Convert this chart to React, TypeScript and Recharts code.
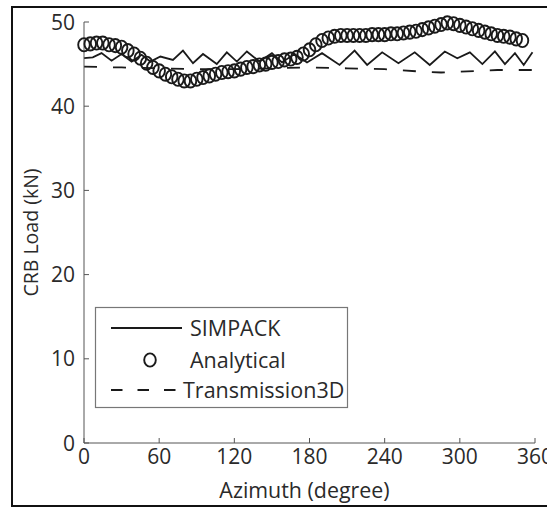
import React from 'react';
import { ComposedChart, Line, Scatter, XAxis, YAxis } from 'recharts';

// ---------- data ----------
const analyticalAngles = [
  0, 5, 10, 15, 20, 25, 30, 35, 40, 45, 50, 55, 60, 65, 70, 75, 80, 85, 90, 95,
  100, 105, 110, 115, 120, 125, 130, 135, 140, 145, 150, 155, 160, 165, 170, 175,
  180, 185, 190, 195, 200, 205, 210, 215, 220, 225, 230, 235, 240, 245, 250, 255,
  260, 265, 270, 275, 280, 285, 290, 295, 300, 305, 310, 315, 320, 325, 330, 335,
  340, 345, 350,
];
const analyticalLoads = [
  47.3, 47.4, 47.5, 47.5, 47.3, 47.2, 47.0, 46.6, 46.2, 45.7, 45.1, 44.6, 44.2, 43.8,
  43.5, 43.2, 43.0, 43.0, 43.2, 43.4, 43.6, 43.8, 44.0, 44.1, 44.2, 44.4, 44.6, 44.7,
  44.9, 45.0, 45.2, 45.3, 45.5, 45.6, 45.8, 46.2, 46.7, 47.3, 47.8, 48.1, 48.3, 48.4,
  48.4, 48.4, 48.4, 48.4, 48.5, 48.5, 48.5, 48.6, 48.6, 48.7, 48.8, 48.9, 49.1, 49.3,
  49.5, 49.7, 49.9, 49.8, 49.6, 49.4, 49.2, 49.0, 48.8, 48.6, 48.4, 48.3, 48.2, 48.0,
  47.8,
];

const simpackAngles = [
  0, 7, 14, 22, 30, 38, 46, 53, 61, 71, 79, 87, 95, 106, 114, 122, 130, 140, 150, 158,
  168, 178, 190, 204, 216, 226, 238, 251, 264, 276, 288, 298, 308, 318, 328, 336, 344,
  351, 358,
];
const simpackLoads = [
  45.7, 45.8, 46.3, 45.4, 46.2, 45.3, 46.1, 45.3, 45.9, 45.5, 46.6, 45.1, 46.2, 45.0,
  46.4, 45.3, 46.5, 45.3, 46.3, 45.2, 46.2, 45.2, 46.3, 44.9, 46.6, 44.9, 46.4, 45.1,
  46.4, 44.9, 46.5, 45.7, 46.4, 45.0, 46.5, 45.0, 46.3, 44.9, 46.4,
];

const t3dAngles = [0, 30, 60, 90, 120, 150, 180, 210, 240, 270, 285, 300, 330, 360];
const t3dLoads = [44.7, 44.6, 44.5, 44.4, 44.4, 44.5, 44.6, 44.5, 44.4, 44.1, 44.0, 44.1, 44.3, 44.3];

const xTicks = [0, 60, 120, 180, 240, 300, 360];
const yTicks = [0, 10, 20, 30, 40, 50];
const seriesNames = ['SIMPACK', 'Analytical', 'Transmission3D'];
const xLabel = 'Azimuth (degree)';
const yLabel = 'CRB Load (kN)';

const analyticalData = analyticalAngles.map((a, i) => ({ x: a, y: analyticalLoads[i] }));
const simpackData = simpackAngles.map((a, i) => ({ x: a, y: simpackLoads[i] }));
const t3dData = t3dAngles.map((a, i) => ({ x: a, y: t3dLoads[i] }));

// ---------- styles ----------
const FONT = '"Open Sans", "Noto Sans", sans-serif';
const TEXT = '#2a2a2a';
const AXIS = '#555';
const INK = '#1a1a1a';

const XTick = (props: any) => {
  const { x, y, payload } = props;
  return (
    <text x={x} y={y} dy="0.72em" textAnchor="middle" fontFamily={FONT} fontSize={21} fill={TEXT}>
      {payload.value}
    </text>
  );
};

const YTick = (props: any) => {
  const { x, y, payload } = props;
  return (
    <text x={x} y={y} dy="0.36em" textAnchor="end" fontFamily={FONT} fontSize={21} fill={TEXT}>
      {payload.value}
    </text>
  );
};

const Ring = (props: any) => {
  const { cx, cy } = props;
  if (cx == null || cy == null) return <g />;
  return <ellipse cx={cx} cy={cy} rx={5.8} ry={6.6} fill="none" stroke={INK} strokeWidth={1.9} />;
};

const YLabel = (props: any) => {
  const vb = props.viewBox || { x: 0, y: 0, width: 0, height: 0 };
  const cx = vb.x + 38;
  const cy = vb.y + vb.height / 2;
  return (
    <text
      x={0}
      y={0}
      transform={`translate(${cx},${cy}) rotate(-90)`}
      textAnchor="middle"
      fontFamily={FONT}
      fontSize={19.5}
      fill={TEXT}
    >
      {yLabel}
    </text>
  );
};

const LegendBox = () => (
  <svg
    width={547}
    height={508}
    style={{ position: 'absolute', left: 0, top: 0, pointerEvents: 'none' }}
  >
    <rect x={95.5} y={307.5} width={252} height={100} fill="#fff" stroke="#777" strokeWidth={1.2} />
    <line x1={111} y1={328} x2={182} y2={328} stroke={INK} strokeWidth={1.8} />
    <text x={190} y={328} dy="0.36em" fontFamily={FONT} fontSize={21.5} fill={TEXT}>
      {seriesNames[0]}
    </text>
    <ellipse cx={150} cy={360} rx={5.8} ry={6.6} fill="none" stroke={INK} strokeWidth={1.9} />
    <text x={190} y={360} dy="0.36em" fontFamily={FONT} fontSize={21.5} fill={TEXT}>
      {seriesNames[1]}
    </text>
    <line
      x1={111}
      y1={390}
      x2={182}
      y2={390}
      stroke={INK}
      strokeWidth={1.8}
      strokeDasharray="11.5 15"
    />
    <text x={183} y={390} dy="0.36em" fontFamily={FONT} fontSize={21.5} fill={TEXT}>
      {seriesNames[2]}
    </text>
  </svg>
);

export default function App() {
  return (
    <div
      style={{
        position: 'fixed',
        left: 0,
        top: 0,
        width: 547,
        height: 508,
        overflow: 'hidden',
        background: '#fff',
      }}
    >
      <div
        style={{
          position: 'absolute',
          left: 11,
          top: 6,
          width: 600,
          height: 497,
          border: '2px solid #111',
        }}
      />
      <div style={{ position: 'absolute', left: 0, top: 0 }}>
        <ComposedChart width={547} height={508} margin={{ top: 22, right: 12, bottom: 5, left: 0 }}>
          <XAxis
            xAxisId="b"
            dataKey="x"
            type="number"
            domain={[0, 360]}
            ticks={xTicks}
            height={60}
            stroke={AXIS}
            tickSize={-5}
            tickMargin={11}
            tick={XTick}
            label={{
              value: xLabel,
              position: 'insideBottom',
              offset: 5,
              dx: -5,
              style: { fontFamily: FONT, fontSize: 21.4, fill: TEXT },
            }}
          />
          <XAxis
            xAxisId="t"
            orientation="top"
            type="number"
            domain={[0, 360]}
            ticks={xTicks}
            height={0}
            stroke={AXIS}
            tickSize={-5}
            tick={false}
          />
          <YAxis
            yAxisId="l"
            type="number"
            domain={[0, 50]}
            ticks={yTicks}
            width={84}
            stroke={AXIS}
            tickSize={-5}
            tickMargin={14}
            tick={YTick}
            label={<YLabel />}
          />
          <YAxis
            yAxisId="r"
            orientation="right"
            type="number"
            domain={[0, 50]}
            ticks={yTicks}
            width={0}
            stroke={AXIS}
            tickSize={-5}
            tick={false}
          />
          <Line
            xAxisId="b"
            yAxisId="l"
            data={simpackData}
            dataKey="y"
            type="linear"
            stroke={INK}
            strokeWidth={1.8}
            dot={false}
            isAnimationActive={false}
          />
          <Line
            xAxisId="b"
            yAxisId="l"
            data={t3dData}
            dataKey="y"
            type="linear"
            stroke={INK}
            strokeWidth={1.8}
            strokeDasharray="13 16"
            dot={false}
            isAnimationActive={false}
          />
          <Scatter
            xAxisId="b"
            yAxisId="l"
            data={analyticalData}
            dataKey="y"
            shape={Ring}
            isAnimationActive={false}
          />
        </ComposedChart>
      </div>
      <LegendBox />
    </div>
  );
}
